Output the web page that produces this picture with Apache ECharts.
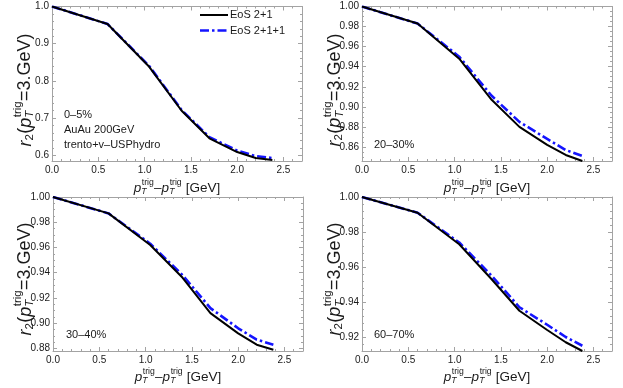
<!DOCTYPE html>
<html><head><meta charset="utf-8">
<script src="https://cdn.jsdelivr.net/npm/echarts@6/dist/echarts.min.js"></script>
<style>html,body{margin:0;padding:0;background:#fff}#c{width:623px;height:388px}</style>
</head><body><div id="c"></div><script>
// ---------- data ----------
const xNodes = [0, 0.6, 1.05, 1.4, 1.7, 2.0, 2.2, 2.38];
const p1_eos21  = [1.0, 0.953, 0.838, 0.720, 0.646, 0.609, 0.593, 0.588];
const p1_eos211 = [1.0, 0.953, 0.840, 0.722, 0.649, 0.613, 0.598, 0.593];
const p2_eos21  = [1.0, 0.983, 0.948, 0.907, 0.880, 0.862, 0.852, 0.846];
const p2_eos211 = [1.0, 0.983, 0.950, 0.911, 0.885, 0.868, 0.857, 0.851];
const p3_eos21  = [1.0, 0.987, 0.962, 0.936, 0.908, 0.892, 0.883, 0.879];
const p3_eos211 = [1.0, 0.987, 0.963, 0.938, 0.912, 0.896, 0.887, 0.883];
const p4_eos21  = [1.0, 0.991, 0.973, 0.953, 0.935, 0.924, 0.917, 0.912];
const p4_eos211 = [1.0, 0.991, 0.974, 0.955, 0.937, 0.927, 0.920, 0.915];

const xTicks  = [0, 0.5, 1, 1.5, 2, 2.5];
const xLabels = ['0.0', '0.5', '1.0', '1.5', '2.0', '2.5'];
const p1YTicks  = [0.6, 0.7, 0.8, 0.9, 1.0];
const p1YLabels = ['0.6', '0.7', '0.8', '0.9', '1.0'];
const p2YTicks  = [0.86, 0.88, 0.90, 0.92, 0.94, 0.96, 0.98, 1.00];
const p2YLabels = ['0.86', '0.88', '0.90', '0.92', '0.94', '0.96', '0.98', '1.00'];
const p3YTicks  = [0.88, 0.90, 0.92, 0.94, 0.96, 0.98, 1.00];
const p3YLabels = ['0.88', '0.90', '0.92', '0.94', '0.96', '0.98', '1.00'];
const p4YTicks  = [0.92, 0.94, 0.96, 0.98, 1.00];
const p4YLabels = ['0.92', '0.94', '0.96', '0.98', '1.00'];

const seriesNames = ['EoS 2+1', 'EoS 2+1+1'];
const panelLabels = ['0\u20135%', '20\u201330%', '30\u201340%', '60\u201370%'];
const extraLabels = ['AuAu 200GeV', 'trento+v\u2013USPhydro'];

// ---------- layout / style ----------
const FONT = '"Liberation Sans", Arial, sans-serif';
const FRAME = '#a3a3a3';
const TXT = '#1a1a1a';
const X_MIN = 0, X_MAX = 2.7;

const panels = [
  {a: p1_eos21, b: p1_eos211, yMin: 0.585, yt: p1YTicks, yl: p1YLabels, minor: 0.02,
   grid: {left: 52, top: 6.5, width: 250, height: 154.5}},
  {a: p2_eos21, b: p2_eos211, yMin: 0.846, yt: p2YTicks, yl: p2YLabels, minor: 0.005,
   grid: {left: 362, top: 6.5, width: 250, height: 154.5}},
  {a: p3_eos21, b: p3_eos211, yMin: 0.878, yt: p3YTicks, yl: p3YLabels, minor: 0.005,
   grid: {left: 53, top: 197, width: 250, height: 154}},
  {a: p4_eos21, b: p4_eos211, yMin: 0.912, yt: p4YTicks, yl: p4YLabels, minor: 0.004,
   grid: {left: 362, top: 197, width: 250, height: 154}}
];

function minorTicks(lo, hi, step, majors) {
  const out = [];
  const n0 = Math.ceil(lo / step - 1e-9), n1 = Math.floor(hi / step + 1e-9);
  for (let n = n0; n <= n1; n++) {
    const v = +(n * step).toFixed(6);
    if (!majors.some(m => Math.abs(m - v) < 1e-9)) out.push(v);
  }
  return out;
}
function base(extra) {
  return Object.assign({
    type: 'value', splitLine: {show: false}, silent: true,
    axisLine: {show: true, onZero: false, lineStyle: {color: FRAME, width: 1}}
  }, extra);
}
function labelFmt(ticks, labels) {
  return v => { const k = ticks.findIndex(t => Math.abs(t - v) < 1e-9); return k >= 0 ? labels[k] : ''; };
}

const grids = [], xAxes = [], yAxes = [], series = [];
const xMinor = minorTicks(X_MIN, X_MAX, 0.1, xTicks);
panels.forEach((p, i) => {
  grids.push(Object.assign({containLabel: false}, p.grid));
  ['bottom', 'top'].forEach(pos => {
    xAxes.push(base({gridIndex: i, min: X_MIN, max: X_MAX, position: pos,
      axisTick: {show: true, inside: true, length: 4, customValues: xTicks, lineStyle: {color: FRAME}},
      axisLabel: {show: pos === 'bottom', customValues: xTicks, formatter: labelFmt(xTicks, xLabels),
        color: TXT, fontSize: 10, fontFamily: FONT, margin: 4}}));
    xAxes.push(base({gridIndex: i, min: X_MIN, max: X_MAX, position: pos,
      axisLine: {show: false, onZero: false},
      axisTick: {show: true, inside: true, length: 2, customValues: xMinor, lineStyle: {color: FRAME}},
      axisLabel: {show: false}}));
  });
  const ym = minorTicks(p.yMin, 1.0, p.minor, p.yt);
  ['left', 'right'].forEach(pos => {
    yAxes.push(base({gridIndex: i, min: p.yMin, max: 1.0, position: pos,
      axisTick: {show: true, inside: true, length: 4, customValues: p.yt, lineStyle: {color: FRAME}},
      axisLabel: {show: pos === 'left', customValues: p.yt, formatter: labelFmt(p.yt, p.yl),
        color: TXT, fontSize: 10, fontFamily: FONT, margin: 3}}));
    yAxes.push(base({gridIndex: i, min: p.yMin, max: 1.0, position: pos,
      axisLine: {show: false, onZero: false},
      axisTick: {show: true, inside: true, length: 2, customValues: ym, lineStyle: {color: FRAME}},
      axisLabel: {show: false}}));
  });
  series.push({type: 'line', name: seriesNames[1], xAxisIndex: 4 * i, yAxisIndex: 4 * i,
    data: xNodes.map((x, k) => [x, p.b[k]]), symbol: 'none', z: 2, silent: true, animation: false,
    lineStyle: {color: '#1414ff', width: 2.6, type: [9, 3, 2.5, 3]}});
  series.push({type: 'line', name: seriesNames[0], xAxisIndex: 4 * i, yAxisIndex: 4 * i,
    data: xNodes.map((x, k) => [x, p.a[k]]), symbol: 'none', z: 3, silent: true, animation: false,
    lineStyle: {color: '#000', width: 2}});
});

// ---------- math-like titles ----------
const mctx = document.createElement('canvas').getContext('2d');
function tw(s, size, it) { mctx.font = (it ? 'italic ' : '') + size + 'px ' + FONT; return mctx.measureText(s).width; }
function tx(s, x, y, size, it) {
  return {type: 'text', x: x, y: y, silent: true,
    style: {text: s, fontSize: size, fontStyle: it ? 'italic' : 'normal', fontFamily: FONT,
      fill: TXT, align: 'left', verticalAlign: 'middle'}};
}
function mathRun(segs, size) {
  let x = 0; const ch = []; const ss = size * 0.64;
  segs.forEach(s => {
    if (s.t != null) { ch.push(tx(s.t, x, 0, size, s.i)); x += tw(s.t, size, s.i); }
    else {
      let w = 0;
      if (s.sub) { ch.push(tx(s.sub, x, size * 0.24, ss, s.si)); w = Math.max(w, tw(s.sub, ss, s.si)); }
      if (s.sup) { ch.push(tx(s.sup, x + 0.5, -size * 0.40, ss, false)); w = Math.max(w, tw(s.sup, ss, false) + 0.5); }
      x += w + 0.3;
    }
  });
  return {ch, w: x};
}
const yTitleSegs = [{t: 'r', i: true}, {sub: '2'}, {t: '('}, {t: 'p', i: true}, {sub: 'T', si: true, sup: 'trig'}, {t: '=3.GeV)'}];
const xTitleSegs = [{t: 'p', i: true}, {sub: 'T', si: true, sup: 'trig'}, {t: '\u2013'}, {t: 'p', i: true}, {sub: 'T', si: true, sup: 'trig'}, {t: ' [GeV]'}];

const graphic = [];
const yTitlePos = [[25.5, 90], [335, 90], [25.5, 279], [335, 279]];
const xTitlePos = [[177, 188], [487, 188], [178, 377], [487, 377]];
yTitlePos.forEach(([cx, cy]) => {
  const r = mathRun(yTitleSegs, 18);
  graphic.push({type: 'group', x: cx, y: cy + r.w / 2, rotation: Math.PI / 2, children: r.ch, silent: true});
});
xTitlePos.forEach(([cx, cy]) => {
  const r = mathRun(xTitleSegs, 13.5);
  graphic.push({type: 'group', x: cx - r.w / 2, y: cy, children: r.ch, silent: true});
});
// panel annotations
const annPos = [[64, 115], [374, 145], [66, 335], [374, 335]];
panelLabels.forEach((s, i) => graphic.push(tx(s, annPos[i][0], annPos[i][1], 11)));
graphic.push(tx(extraLabels[0], 64, 130, 11));
graphic.push(tx(extraLabels[1], 64, 145, 11));
// legend
graphic.push({type: 'line', shape: {x1: 200, y1: 15, x2: 228, y2: 15}, style: {stroke: '#000', lineWidth: 2}, silent: true});
graphic.push({type: 'line', shape: {x1: 200, y1: 30.5, x2: 228, y2: 30.5}, style: {stroke: '#1414ff', lineWidth: 2.6, lineDash: [9, 3, 2.5, 3]}, silent: true});
graphic.push(tx(seriesNames[0], 230, 15, 11));
graphic.push(tx(seriesNames[1], 230, 30.5, 11));

const chart = echarts.init(document.getElementById('c'), null, {renderer: 'canvas'});
chart.setOption({animation: false, backgroundColor: '#fff', grid: grids, xAxis: xAxes, yAxis: yAxes, series: series, graphic: graphic});
</script></body></html>
